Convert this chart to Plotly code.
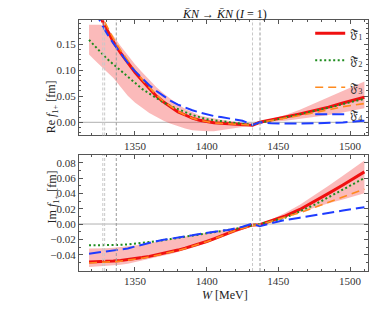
import plotly.graph_objects as go

W = [1318, 1322, 1326, 1330, 1335, 1340, 1345, 1350, 1355, 1360, 1365, 1370, 1375,
     1380, 1385, 1390, 1395, 1400, 1405, 1410, 1415, 1420, 1425, 1432, 1437, 1445,
     1455, 1465, 1475, 1485, 1495, 1505, 1510]

# Re f1+ [fm]
re_f1 = [0.250, 0.222, 0.201, 0.180, 0.154, 0.133, 0.114, 0.096, 0.080, 0.064, 0.050, 0.039, 0.029,
         0.020, 0.014, 0.008, 0.004, 0.001, -0.001, -0.002, -0.003, -0.0035, -0.004, -0.0055, 0.000, 0.004,
         0.010, 0.016, 0.022, 0.029, 0.037, 0.044, 0.048]
re_f2 = [0.158, 0.146, 0.134, 0.123, 0.111, 0.099, 0.087, 0.075, 0.064, 0.055, 0.046, 0.038, 0.031,
         0.025, 0.019, 0.014, 0.010, 0.006, 0.004, 0.002, 0.000, -0.002, -0.003, -0.005, 0.000, 0.003,
         0.009, 0.015, 0.022, 0.028, 0.035, 0.042, 0.045]
re_f3 = [0.260, 0.230, 0.208, 0.186, 0.160, 0.138, 0.118, 0.099, 0.082, 0.066, 0.052, 0.040, 0.030,
         0.021, 0.014, 0.008, 0.004, 0.001, -0.001, -0.002, -0.003, -0.0035, -0.004, -0.0055, 0.000, 0.003,
         0.008, 0.013, 0.018, 0.024, 0.030, 0.034, 0.036]
re_f4 = [0.245, 0.215, 0.192, 0.172, 0.151, 0.132, 0.114, 0.098, 0.084, 0.071, 0.060, 0.050, 0.041,
         0.034, 0.028, 0.023, 0.019, 0.015, 0.012, 0.010, 0.008, 0.006, 0.003, -0.005, 0.000, -0.002,
         -0.0025, -0.0025, -0.002, -0.0012, -0.0003, 0.002, 0.003]
re_hi = [0.187, 0.187, 0.187, 0.182, 0.166, 0.146, 0.128, 0.111, 0.096, 0.081, 0.067, 0.055, 0.044,
         0.034, 0.026, 0.019, 0.013, 0.010, 0.007, 0.005, 0.003, 0.001, -0.001, -0.004, 0.000, 0.006,
         0.014, 0.024, 0.036, 0.048, 0.060, 0.072, 0.078]
re_lo = [0.130, 0.119, 0.108, 0.098, 0.085, 0.067, 0.051, 0.038, 0.028, 0.018, 0.010, 0.003, -0.003,
         -0.008, -0.012, -0.015, -0.0165, -0.017, -0.017, -0.0155, -0.0135, -0.011, -0.009, -0.006, 0.000, 0.001,
         0.003, 0.006, 0.010, 0.014, 0.019, 0.024, 0.027]

# Im f1+ [fm]
im_f1 = [-0.0497, -0.0495, -0.0492, -0.0488, -0.0482, -0.0475, -0.0465, -0.0453, -0.0438, -0.0422, -0.0403, -0.0383, -0.0362,
         -0.0340, -0.0315, -0.0288, -0.0260, -0.0228, -0.0193, -0.0155, -0.0117, -0.0083, -0.0053, -0.0012, -0.0010, 0.0045,
         0.0107, 0.0190, 0.0290, 0.0400, 0.0510, 0.0620, 0.0680]
im_f2 = [-0.0278, -0.0278, -0.0278, -0.0277, -0.0275, -0.0272, -0.0266, -0.0258, -0.0248, -0.0237, -0.0224, -0.0210, -0.0196,
         -0.0183, -0.0168, -0.0153, -0.0138, -0.0124, -0.0110, -0.0096, -0.0083, -0.0068, -0.0048, -0.0015, 0.0000, 0.0035,
         0.0085, 0.0165, 0.0250, 0.0350, 0.0450, 0.0550, 0.0600]
im_f3 = [-0.0508, -0.0506, -0.0503, -0.0499, -0.0492, -0.0484, -0.0474, -0.0461, -0.0446, -0.0429, -0.0410, -0.0390, -0.0368,
         -0.0345, -0.0320, -0.0292, -0.0263, -0.0230, -0.0195, -0.0157, -0.0119, -0.0085, -0.0055, -0.0018, -0.0010, 0.0035,
         0.0085, 0.0148, 0.0215, 0.0285, 0.0350, 0.0420, 0.0455]
im_f4 = [-0.0387, -0.0378, -0.0368, -0.0358, -0.0347, -0.0335, -0.0320, -0.0293, -0.0268, -0.0245, -0.0224, -0.0205, -0.0192,
         -0.0180, -0.0165, -0.0148, -0.0131, -0.0115, -0.0100, -0.0088, -0.0078, -0.0058, -0.0035, 0.0005, -0.0030, 0.0010,
         0.0053, 0.0082, 0.0110, 0.0145, 0.0175, 0.0205, 0.0220]
im_hi = [-0.0320, -0.0320, -0.0318, -0.0315, -0.0310, -0.0302, -0.0292, -0.0280, -0.0265, -0.0250, -0.0233, -0.0216, -0.0198,
         -0.0180, -0.0163, -0.0145, -0.0128, -0.0110, -0.0095, -0.0080, -0.0066, -0.0050, -0.0035, -0.0010, 0.0000, 0.0060,
         0.0148, 0.0250, 0.0370, 0.0500, 0.0630, 0.0760, 0.0830]
im_lo = [-0.0560, -0.0557, -0.0552, -0.0547, -0.0540, -0.0532, -0.0518, -0.0500, -0.0477, -0.0456, -0.0434, -0.0412, -0.0390,
         -0.0370, -0.0340, -0.0310, -0.0280, -0.0250, -0.0210, -0.0180, -0.0147, -0.0110, -0.0075, -0.0025, -0.0010, 0.0030,
         0.0080, 0.0145, 0.0210, 0.0270, 0.0320, 0.0370, 0.0400]

thresholds = [1327.6, 1328.9, 1337.0, 1432.0, 1437.2]
threshold_colors = ["#c8c8c8", "#c8c8c8", "#9a9a9a", "#c8c8c8", "#9a9a9a"]

x_ticks = [1350, 1400, 1450, 1500]
re_ticks = [0.00, 0.05, 0.10, 0.15]
im_ticks = [-0.04, -0.02, 0.00, 0.02, 0.04, 0.06, 0.08]

names = ["𝔉̃<sub>1</sub>", "𝔉̃<sub>2</sub>", "𝔉̃<sub>3</sub>", "𝔉̃<sub>4</sub>"]
styles = [
    dict(color="#f01010", width=3, dash="solid"),
    dict(color="#1e8c1e", width=2, dash="2px,2.5px"),
    dict(color="#ff8a1e", width=1.6, dash="8px,5px"),
    dict(color="#1e3cff", width=2, dash="12px,5px"),
]

FONT = "Liberation Serif"
fig = go.Figure()

band_fill = "rgba(242,40,40,0.32)"
for ax, hi, lo, curves, show in [("1", re_hi, re_lo, [re_f1, re_f2, re_f3, re_f4], True),
                                  ("2", im_hi, im_lo, [im_f1, im_f2, im_f3, im_f4], False)]:
    xa = "x" if ax == "1" else "x2"
    ya = "y" if ax == "1" else "y2"
    fig.add_trace(go.Scatter(x=W + W[::-1], y=hi + lo[::-1], fill="toself", fillcolor=band_fill,
                             line=dict(width=0), mode="lines", hoverinfo="skip", showlegend=False,
                             xaxis=xa, yaxis=ya))
    for i, (c, st) in enumerate(zip(curves, styles)):
        fig.add_trace(go.Scatter(x=W, y=c, mode="lines", line=st, name=names[i],
                                 legendgroup=f"g{i}", showlegend=show, xaxis=xa, yaxis=ya))

shapes = []
for xr, yr in [("x", "y domain"), ("x2", "y2 domain")]:
    for t, col in zip(thresholds, threshold_colors):
        shapes.append(dict(type="line", xref=xr, yref=yr, x0=t, x1=t, y0=0, y1=1,
                           line=dict(color=col, width=1, dash="3px,2px"), layer="above"))
    shapes.append(dict(type="line", xref=xr + " domain", yref=yr.split()[0], x0=0, x1=1, y0=0, y1=0,
                       line=dict(color="#b0b0b0", width=1), layer="below"))

axis_common = dict(showline=True, linecolor="#555", linewidth=1, mirror="ticks", ticks="inside",
                   ticklen=4, tickcolor="#555", showgrid=False, zeroline=False,
                   tickfont=dict(family=FONT, size=11, color="#333"))

fig.update_layout(
    width=374, height=318,
    margin=dict(l=79, r=6, t=20, b=47),
    paper_bgcolor="white", plot_bgcolor="white",
    font=dict(family=FONT, size=11, color="#333"),
    shapes=shapes,
    xaxis=dict(domain=[0, 1], anchor="y", range=[1311, 1512.5], tickvals=x_ticks,
               minor=dict(ticks="inside", ticklen=2, dtick=10, tick0=1350, tickcolor="#555"), **axis_common),
    yaxis=dict(domain=[0.54, 1], anchor="x", range=[-0.0252, 0.196], tickvals=re_ticks, tickformat=".2f",
               minor=dict(ticks="inside", ticklen=2, dtick=0.01, tick0=0, tickcolor="#555"), **axis_common),
    xaxis2=dict(domain=[0, 1], anchor="y2", range=[1311, 1512.5], tickvals=x_ticks,
                minor=dict(ticks="inside", ticklen=2, dtick=10, tick0=1350, tickcolor="#555"), **axis_common),
    yaxis2=dict(domain=[0, 0.462], anchor="x2", range=[-0.0613, 0.090], tickvals=im_ticks, tickformat=".2f",
                minor=dict(ticks="inside", ticklen=2, dtick=0.01, tick0=0, tickcolor="#555"), **axis_common),
    legend=dict(x=0.80, y=1.005, xanchor="left", yanchor="top", bgcolor="rgba(0,0,0,0)",
                font=dict(family=FONT, size=12, color="#333"), traceorder="grouped",
                tracegroupgap=8, itemwidth=30),
    annotations=[
        dict(text="<i>K̄N</i> → <i>K̄N</i> (<i>I</i> = 1)", xref="paper", yref="paper",
             x=0.502, y=1.06, showarrow=False, font=dict(family=FONT, size=12, color="#111")),
        dict(text="Re <i>f</i><sub>1+</sub> [fm]", xref="paper", yref="paper", x=-0.125, y=0.769,
             textangle=-90, showarrow=False, font=dict(family=FONT, size=12, color="#222")),
        dict(text="Im <i>f</i><sub>1+</sub> [fm]", xref="paper", yref="paper", x=-0.125, y=0.183,
             textangle=-90, showarrow=False, font=dict(family=FONT, size=12, color="#222")),
        dict(text="<i>W</i> [MeV]", xref="paper", yref="paper", x=0.506, y=-0.13,
             showarrow=False, font=dict(family=FONT, size=12, color="#222")),
    ],
)

fig.write_html("out.html", config={"displayModeBar": False},
               post_script="document.body.style.margin='0';")
